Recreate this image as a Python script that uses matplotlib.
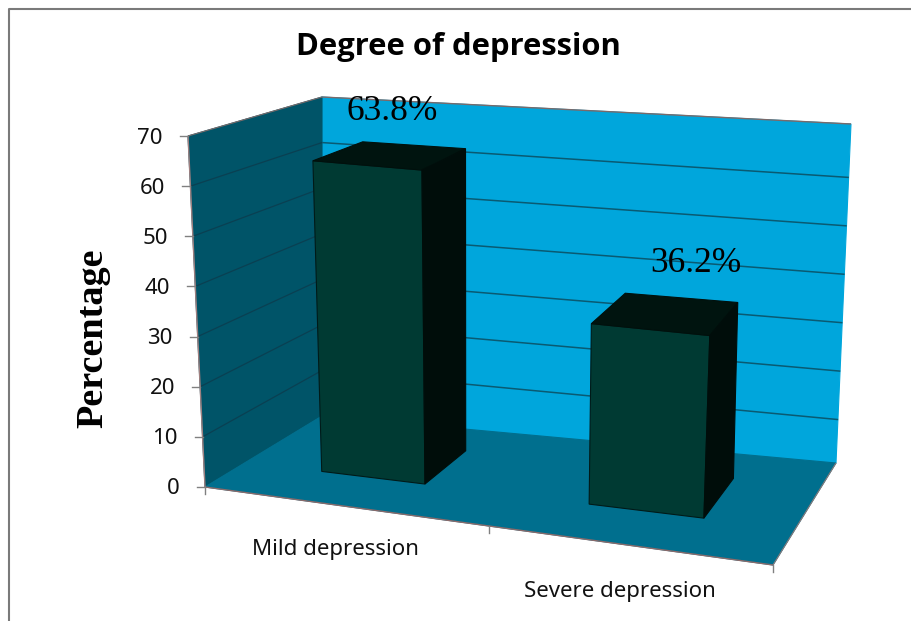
#!/usr/bin/env python
import numpy as np
import matplotlib
matplotlib.use('Agg')
import matplotlib.pyplot as plt
from matplotlib.patches import Polygon

TITLE = 'Degree of depression'
Y_LABEL = 'Percentage'
CATEGORIES = ['Mild depression', 'Severe depression']
VALUES = [63.8, 36.2]
VALUE_LABELS = ['63.8%', '36.2%']
Y_TICKS = [0, 10, 20, 30, 40, 50, 60, 70]

YMAX = 70.0

# pixel position of the box corners, (u, value, depth)
CORNERS = {
    (0, 0, 0): (205, 487), (1, 0, 0): (773, 565),
    (0, 0, 1): (322, 416), (1, 0, 1): (836, 463),
    (0, 1, 0): (188, 136), (1, 1, 0): (800, 195),
    (0, 1, 1): (322, 97), (1, 1, 1): (851, 124),
}

BAR_U = [(0.138, 0.326), (0.625, 0.834)]
BAR_DEPTH = (0.35, 0.76)
BAR_TOP_NUDGE = np.array([-3, 1.5])  # the picture's bars lean a little more than the box
GRID_RIGHT_NUDGE = 5
LABEL_XY = [(392, 111), (696, 263)]


def proj(u, val, d):
    # plain trilinear blend of the corners, good enough for this view
    v = val / YMAX
    p = np.zeros(2)
    for (a, b, c), xy in CORNERS.items():
        w = (u if a else 1 - u) * (v if b else 1 - v) * (d if c else 1 - d)
        p += w * np.array(xy)
    return p


def face(ax, pts, color, edge=None, z=1):
    ax.add_patch(Polygon(pts, closed=True, facecolor=color,
                         edgecolor=edge if edge else color, lw=0.8, zorder=z))


def line(ax, pa, pb, color, lw=1.0, z=2):
    ax.plot([pa[0], pb[0]], [pa[1], pb[1]], color=color, lw=lw, zorder=z,
            solid_capstyle='butt')


fig = plt.figure(figsize=(9.11, 6.21), dpi=100)
ax = fig.add_axes([0, 0, 1, 1])
ax.set_xlim(0, 911)
ax.set_ylim(621, 0)
ax.axis('off')

# chart frame, cropped on the right and at the bottom
ax.plot([9, 9, 911], [621, 9, 9], color='#7a7a7a', lw=1.5)

# walls and floor
face(ax, [proj(0, 0, 1), proj(1, 0, 1), proj(1, YMAX, 1), proj(0, YMAX, 1)], '#00a6dc')
face(ax, [proj(0, 0, 0), proj(0, 0, 1), proj(0, YMAX, 1), proj(0, YMAX, 0)], '#005468')
face(ax, [proj(0, 0, 0), proj(1, 0, 0), proj(1, 0, 1), proj(0, 0, 1)], '#006f8e')

for t in Y_TICKS[1:-1]:
    line(ax, proj(0, t, 0), proj(0, t, 1), '#0a4052', 0.9)
    line(ax, proj(0, t, 1), proj(1, t, 1) + [0, GRID_RIGHT_NUDGE], '#0a5a72', 1.1)
line(ax, proj(0, YMAX, 1), proj(1, YMAX, 1), '#7a6a6a', 1.0)
line(ax, proj(0, YMAX, 0), proj(0, YMAX, 1), '#7a6a6a', 0.8)
line(ax, proj(0, 0, 0), proj(1, 0, 0), '#8a6a6a', 1.0, 3)
line(ax, proj(1, 0, 0), proj(1, 0, 1), '#8a7a7a', 0.8, 3)
line(ax, proj(0, 0, 0), proj(0, YMAX, 0), '#a08080', 1.0, 3)

# y ticks and labels
for t in Y_TICKS:
    x, y = proj(0, t, 0)
    ax.plot([x - 8, x], [y, y], color='#808080', lw=1.0, zorder=3)
    ax.text(x - 25, y + 2, str(t), ha='right', va='center', fontsize=16,
            family='Noto Sans', color='#111111')

# category ticks
for u in (0, 0.5, 1):
    x, y = proj(u, 0, 0)
    ax.plot([x, x], [y, y + 7], color='#808080', lw=1.0, zorder=3)

# bars
d0, d1 = BAR_DEPTH
for (u0, u1), val in zip(BAR_U, VALUES):
    tl, tr = proj(u0, val, d0) + BAR_TOP_NUDGE, proj(u1, val, d0) + BAR_TOP_NUDGE
    bl, br = proj(u0, val, d1) + BAR_TOP_NUDGE, proj(u1, val, d1) + BAR_TOP_NUDGE
    face(ax, [proj(u0, 0, d0), proj(u1, 0, d0), tr, tl], '#003a33', '#001a18', 4)
    face(ax, [tl, tr, br, bl], '#00140f', '#00100c', 4)
    face(ax, [proj(u1, 0, d0), proj(u1, 0, d1), br, tr], '#000d0a', '#000d0a', 4)

for s, (x, y) in zip(VALUE_LABELS, LABEL_XY):
    ax.text(x, y, s, ha='center', va='center', fontsize=25.5,
            family='Liberation Serif', color='black', zorder=6)

ax.text(335, 550, CATEGORIES[0], ha='center', va='center', fontsize=16,
        family='Noto Sans', color='#111111')
ax.text(620, 591, CATEGORIES[1], ha='center', va='center', fontsize=16,
        family='Noto Sans', color='#111111')

ax.text(458, 47, TITLE, ha='center', va='center', fontsize=22.3, fontweight='bold',
        family='Open Sans', color='black')
ax.text(93, 338, Y_LABEL, rotation=90, ha='center', va='center', fontsize=27.5,
        fontweight='bold', family='Liberation Serif', color='black')

fig.savefig('out.png', dpi=100)
